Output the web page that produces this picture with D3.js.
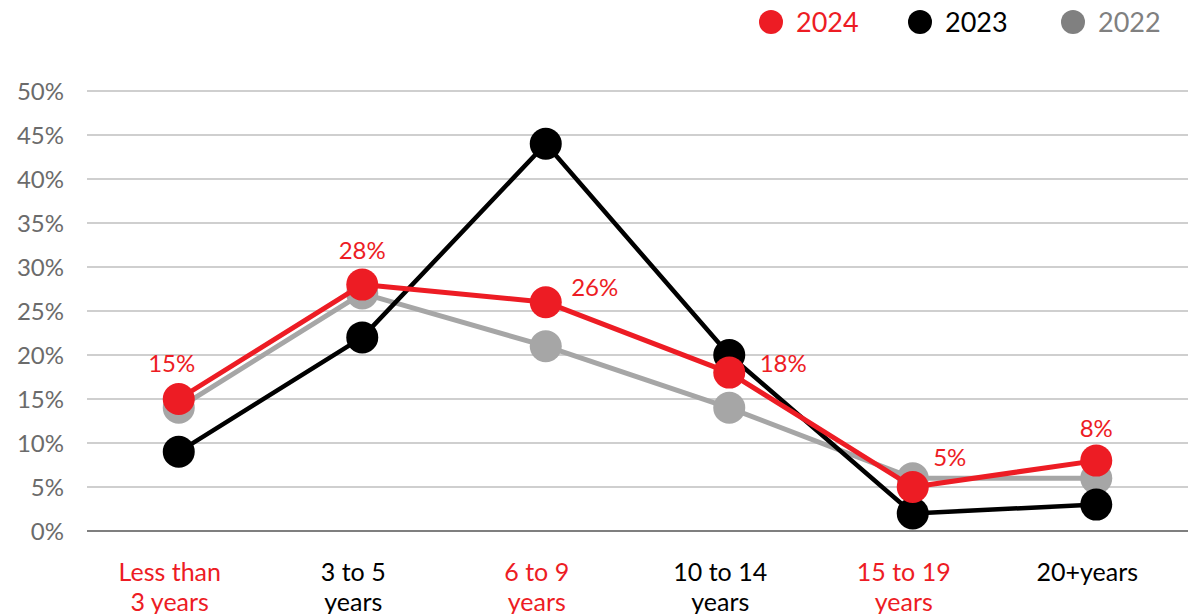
<!DOCTYPE html>
<html>
<head>
<meta charset="utf-8">
<script src="https://cdn.jsdelivr.net/npm/d3@7"></script>
<style>
  body { margin: 0; background: #fff; }
  text { font-family: Lato, "Open Sans", sans-serif; }
</style>
</head>
<body>
<div id="chart"></div>
<script>
var categories = [["Less than", "3 years"], ["3 to 5", "years"], ["6 to 9", "years"],
    ["10 to 14", "years"], ["15 to 19", "years"], ["20+years"]];
var catColors = ["#ed1c24", "#000", "#ed1c24", "#000", "#ed1c24", "#000"];
var values2024 = [15, 28, 26, 18, 5, 8];
var values2023 = [9, 22, 44, 20, 2, 3];
var values2022 = [14, 27, 21, 14, 6, 6];
var yTicks = [0, 5, 10, 15, 20, 25, 30, 35, 40, 45, 50];
// label offsets for the 2024 values
var labelPos = [[-7, -27], [0, -26], [49, -6], [54, -1], [37, -21], [0, -24]];

var width = 1191, height = 614;
var margin = {top: 91, right: 3, bottom: 83, left: 87};
var w = width - margin.left - margin.right;
var h = height - margin.top - margin.bottom;

var svg = d3.select("#chart").append("svg")
    .attr("width", width)
    .attr("height", height);
var g = svg.append("g")
    .attr("transform", "translate(" + margin.left + "," + margin.top + ")");

var x = d3.scaleBand()
    .domain(d3.range(categories.length))
    .range([0, w]);
var y = d3.scaleLinear()
    .domain([0, 50])
    .range([h, 0]);

// gridlines
g.selectAll(".grid")
    .data(yTicks)
    .enter()
    .append("line")
    .attr("x1", 0)
    .attr("x2", w)
    .attr("y1", d => y(d))
    .attr("y2", d => y(d))
    .attr("stroke", d => d == 0 ? "#7f7f7f" : "#bfbfbf")
    .attr("stroke-width", d => d == 0 ? 2 : 1.5);

// y tick labels
g.selectAll(".ylab")
    .data(yTicks)
    .enter()
    .append("text")
    .attr("x", -23)
    .attr("y", d => y(d))
    .attr("dy", "0.36em")
    .attr("text-anchor", "end")
    .style("font-size", "24px")
    .attr("fill", "#6b6b6b")
    .text(d => d + "%");

// x labels
var xl = g.selectAll(".xlab")
    .data(categories)
    .enter()
    .append("text")
    .attr("text-anchor", "middle")
    .style("font-size", "25px")
    .attr("fill", (d, i) => catColors[i]);
xl.selectAll("tspan")
    .data((d, i) => d.map(t => ({t: t, i: i})))
    .enter()
    .append("tspan")
    .attr("x", d => x(d.i) + x.bandwidth() / 2 - 9)
    .attr("y", (d, j) => h + 50 + j * 30)
    .text(d => d.t);

var line = d3.line()
    .x((d, i) => x(i) + x.bandwidth() / 2)
    .y(d => y(d));

var series = [
    {name: "2022", values: values2022, color: "#a6a6a6", width: 5},
    {name: "2023", values: values2023, color: "#000000", width: 4.5},
    {name: "2024", values: values2024, color: "#ed1c24", width: 5}
];

series.forEach(function(s) {
    g.append("path")
        .datum(s.values)
        .attr("d", line)
        .attr("fill", "none")
        .attr("stroke", s.color)
        .attr("stroke-width", s.width)
        .attr("stroke-linejoin", "round");
    g.selectAll(".pt" + s.name)
        .data(s.values)
        .enter()
        .append("circle")
        .attr("cx", (d, i) => x(i) + x.bandwidth() / 2)
        .attr("cy", d => y(d))
        .attr("r", 16)
        .attr("fill", s.color);
});

// 2024 value labels
g.selectAll(".vlab")
    .data(values2024)
    .enter()
    .append("text")
    .attr("x", (d, i) => x(i) + x.bandwidth() / 2 + labelPos[i][0])
    .attr("y", (d, i) => y(d) + labelPos[i][1])
    .attr("text-anchor", "middle")
    .style("font-size", "24px")
    .attr("fill", "#ed1c24")
    .text(d => d + "%");

// legend
var legend = [
    {name: "2024", color: "#ed1c24", text: "#ed1c24", x: 771},
    {name: "2023", color: "#000", text: "#000", x: 920},
    {name: "2022", color: "#808080", text: "#808080", x: 1073}
];
var lg = svg.selectAll(".leg")
    .data(legend)
    .enter()
    .append("g")
    .attr("transform", d => "translate(" + d.x + ",22)");
lg.append("circle")
    .attr("r", 12)
    .attr("fill", d => d.color);
lg.append("text")
    .attr("x", 25)
    .attr("dy", "0.36em")
    .style("font-size", "27px")
    .attr("fill", d => d.text)
    .text(d => d.name);
</script>
</body>
</html>
